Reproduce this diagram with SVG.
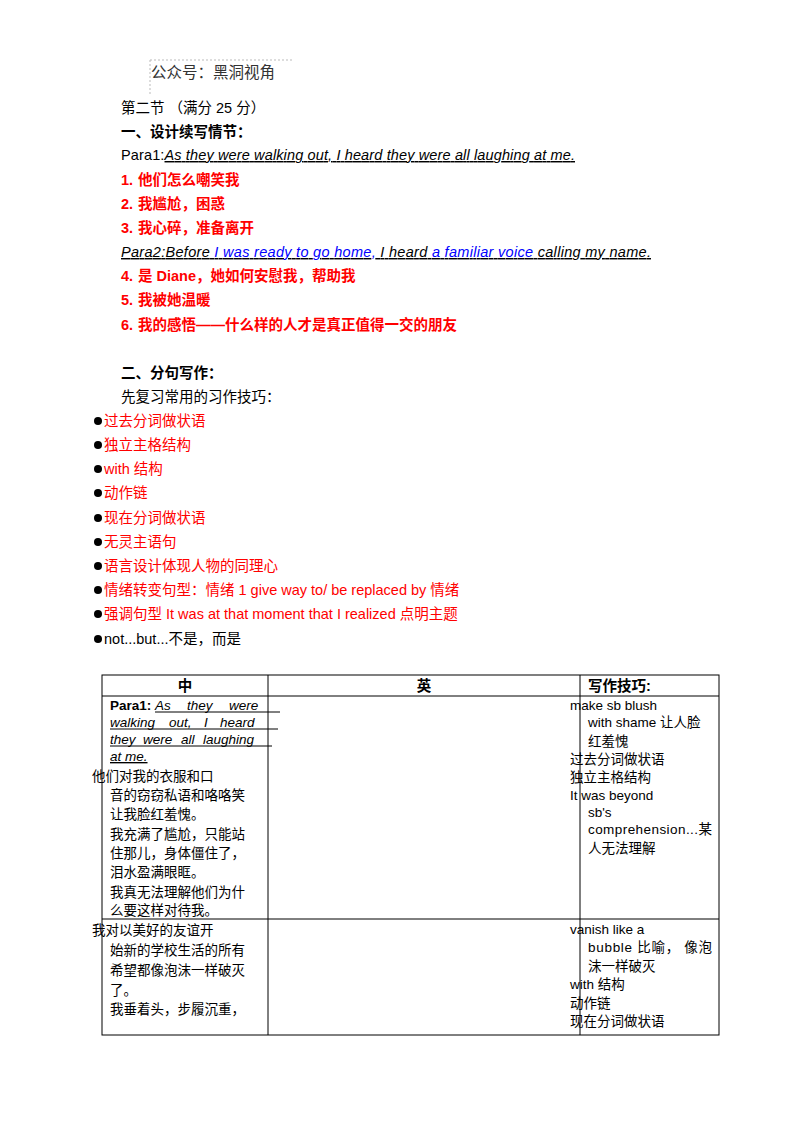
<svg xmlns="http://www.w3.org/2000/svg" width="800" height="1132" viewBox="0 0 800 1132">
<style>
text{font-family:"Liberation Sans","Noto Sans CJK SC",sans-serif;font-size:14.5px;fill:#000}
.b{font-weight:bold}
.r{fill:#f00}
.bl{fill:#00f}
.i{font-style:italic}
.u{text-decoration:underline}
.t{font-size:13.5px}
line{stroke:#000;stroke-width:1}
</style>
<rect width="800" height="1132" fill="#fff"/>
<g id="header">
<path d="M150 60 V94 M150 60 H292" stroke="#bbb" stroke-dasharray="2 2" fill="none"/>
<text x="151" y="78" style="font-size:15.5px;fill:#333">公众号：黑洞视角</text>
<text x="121" y="113">第二节 （满分 25 分）</text>
<text x="121" y="137" class="b">一、设计续写情节：</text>
<text x="121" y="160" textLength="454">Para1:<tspan class="i u">As they were walking out, I heard they were all laughing at me.</tspan></text>
<text y="185" class="b r"><tspan x="121">1.</tspan><tspan x="138">他们怎么嘲笑我</tspan></text>
<text y="209" class="b r"><tspan x="121">2.</tspan><tspan x="138">我尴尬，困惑</tspan></text>
<text y="233" class="b r"><tspan x="121">3.</tspan><tspan x="138">我心碎，准备离开</tspan></text>
<text x="121" y="257" class="i u" textLength="530">Para2:Before  <tspan class="bl">I was ready to go home, </tspan> I heard  <tspan class="bl">a familiar voice </tspan> calling my name.</text>
<text y="281" class="b r"><tspan x="121">4.</tspan><tspan x="138">是 Diane，她如何安慰我，帮助我</tspan></text>
<text y="305" class="b r"><tspan x="121">5.</tspan><tspan x="138">我被她温暖</tspan></text>
<text y="330" class="b r"><tspan x="121">6.</tspan><tspan x="138">我的感悟——什么样的人才是真正值得一交的朋友</tspan></text>
<text x="121" y="378" class="b">二、分句写作：</text>
<text x="121" y="402">先复习常用的习作技巧：</text>
</g>
<g id="bullets">
<text x="104" y="426" class="r">过去分词做状语</text>
<text x="104" y="450" class="r">独立主格结构</text>
<text x="104" y="474" class="r">with 结构</text>
<text x="104" y="498" class="r">动作链</text>
<text x="104" y="523" class="r">现在分词做状语</text>
<text x="104" y="547" class="r">无灵主语句</text>
<text x="104" y="571" class="r">语言设计体现人物的同理心</text>
<text x="104" y="595" class="r">情绪转变句型：情绪 1 give way to/ be replaced by 情绪</text>
<text x="104" y="619" class="r">强调句型 It was at that moment that I realized  点明主题</text>
<text x="104" y="644">not...but...不是，而是</text>
<g fill="#000">
<circle cx="98" cy="421" r="4"/><circle cx="98" cy="445" r="4"/><circle cx="98" cy="469" r="4"/>
<circle cx="98" cy="493" r="4"/><circle cx="98" cy="518" r="4"/><circle cx="98" cy="542" r="4"/>
<circle cx="98" cy="566" r="4"/><circle cx="98" cy="590" r="4"/><circle cx="98" cy="614" r="4"/>
<circle cx="98" cy="639" r="4"/>
</g>
</g>
<g id="table">
<rect x="102" y="675" width="617" height="360" fill="none" stroke="#000"/>
<line x1="102" y1="696" x2="719" y2="696"/>
<line x1="102" y1="919" x2="719" y2="919"/>
<line x1="268" y1="675" x2="268" y2="1035"/>
<line x1="580" y1="675" x2="580" y2="1035"/>
<text x="185" y="691" class="b" text-anchor="middle">中</text>
<text x="424" y="691" class="b" text-anchor="middle">英</text>
<text x="588" y="691" class="b">写作技巧:</text>
<text y="710" class="t"><tspan x="110" class="b">Para1:</tspan><tspan x="155" class="i">As</tspan><tspan x="187" class="i">they</tspan><tspan x="229" class="i">were</tspan></text>
<line x1="155" y1="712" x2="280" y2="712"/>
<text y="727" class="t i"><tspan x="110">walking</tspan><tspan x="169">out,</tspan><tspan x="204">I</tspan><tspan x="220">heard</tspan></text>
<line x1="110" y1="729" x2="278" y2="729"/>
<text y="744" class="t i"><tspan x="110">they</tspan><tspan x="143">were</tspan><tspan x="181">all</tspan><tspan x="203">laughing</tspan></text>
<line x1="110" y1="746" x2="272" y2="746"/>
<text x="110" y="761" class="t i u">at me.</text>
<text x="92" y="781" class="t">他们对我的衣服和口</text>
<text x="110" y="800" class="t">音的窃窃私语和咯咯笑</text>
<text x="110" y="819" class="t">让我脸红羞愧。</text>
<text x="110" y="839" class="t">我充满了尴尬，只能站</text>
<text x="110" y="858" class="t">住那儿，身体僵住了，</text>
<text x="110" y="877" class="t">泪水盈满眼眶。</text>
<text x="110" y="897" class="t">我真无法理解他们为什</text>
<text x="110" y="915" class="t">么要这样对待我。</text>
<text x="92" y="935" class="t">我对以美好的友谊开</text>
<text x="110" y="955" class="t">始新的学校生活的所有</text>
<text x="110" y="975" class="t">希望都像泡沫一样破灭</text>
<text x="110" y="995" class="t">了。</text>
<text x="110" y="1014" class="t">我垂着头，步履沉重，</text>
<text x="570" y="710" class="t">make sb blush</text>
<text x="588" y="727" class="t">with shame 让人脸</text>
<text x="588" y="746" class="t">红羞愧</text>
<text x="570" y="764" class="t">过去分词做状语</text>
<text x="570" y="782" class="t">独立主格结构</text>
<text x="570" y="800" class="t">It was beyond</text>
<text x="588" y="817" class="t">sb's</text>
<text x="588" y="834" class="t" textLength="124">comprehension...某</text>
<text x="588" y="853" class="t">人无法理解</text>
<text x="570" y="934" class="t">vanish like a</text>
<text x="588" y="952" class="t" textLength="124">bubble 比喻， 像泡</text>
<text x="588" y="971" class="t">沫一样破灭</text>
<text x="570" y="989" class="t">with 结构</text>
<text x="570" y="1008" class="t">动作链</text>
<text x="570" y="1026" class="t">现在分词做状语</text>
</g>
</svg>
